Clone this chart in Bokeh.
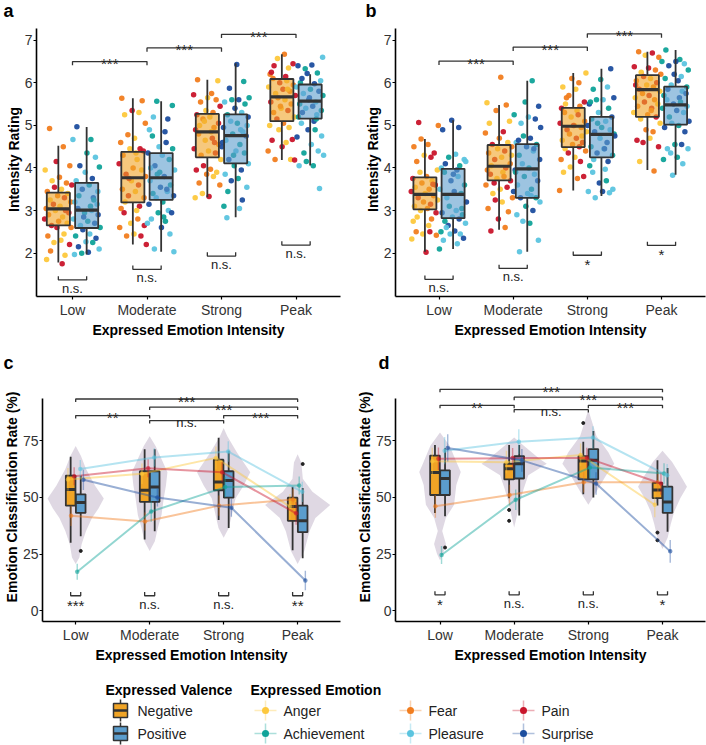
from bokeh.plotting import figure
from bokeh.layouts import column, row
from bokeh.models import Range1d, FixedTicker
from bokeh.embed import file_html
from bokeh.resources import INLINE
from bokeh.core.properties import value

FONT = "Liberation Sans"
CATS = ["Low", "Moderate", "Strong", "Peak"]
EMOTIONS = ["Anger", "Fear", "Pain", "Achievement", "Pleasure", "Surprise"]
EMO_CODES = "AFPCLS"
EMO_COLORS = ["#FDC83C", "#F17D1F", "#C9152B", "#10A399", "#5BC4DF", "#1D4E9F"]
VALENCES = ["Negative", "Positive"]
VAL_COLORS = ["#F0A426", "#5B9DCD"]

# ---------------- panel a (intensity rating) ----------------
# [lower whisker, Q1, median, Q3, upper whisker]
A_BOX_NEG = [[1.78, 2.65, 3.04, 3.42, 4.52], [2.20, 3.19, 3.77, 4.38, 5.64],
             [3.31, 4.25, 4.85, 5.27, 6.07], [4.19, 5.10, 5.67, 6.09, 6.67]]
A_BOX_POS = [[1.97, 2.59, 3.01, 3.65, 4.96], [2.03, 3.25, 3.77, 4.35, 5.57],
             [2.84, 4.11, 4.76, 5.26, 6.46], [4.06, 5.16, 5.57, 5.96, 6.20]]
A_PTS_NEG = [
    ("FFPFAFFAPPAFAFPAFPAFPAPFAPFAPFPAFAAPFAAP",
     [4.93, 4.50, 4.15, 4.05, 3.95, 3.78, 3.65, 3.70, 3.60, 3.55, 3.50, 3.45, 3.40, 3.35, 3.30, 3.25, 3.20, 3.15, 3.10, 3.05,
      3.00, 3.00, 2.95, 2.90, 2.85, 2.80, 2.75, 2.70, 2.65, 2.60, 2.60, 2.45, 2.40, 2.30, 2.25, 2.20, 2.05, 1.95, 1.85, 1.75]),
    ("FFPAAFFAFPAPFAPFAPFAPFAPFAPFAPFAPFAPFPPA",
     [5.64, 5.58, 5.35, 5.30, 5.25, 5.05, 4.78, 4.70, 4.60, 4.45, 4.45, 4.40, 4.30, 4.20, 4.10, 4.00, 3.95, 3.85, 3.80, 3.70,
      3.60, 3.50, 3.45, 3.35, 3.30, 3.20, 3.10, 3.05, 3.00, 2.95, 2.80, 2.70, 2.65, 2.60, 2.45, 2.40, 2.40, 2.20, 3.75, 4.35]),
    ("AFFPAFFPAFPAFPAFPAFPAFPAPFAPFPAFAFFAPAPA",
     [6.05, 6.07, 5.75, 5.72, 5.65, 5.60, 5.55, 5.45, 5.35, 5.30, 5.25, 5.20, 5.15, 5.05, 5.00, 4.95, 4.90, 4.85, 4.80, 4.70,
      4.65, 4.55, 4.45, 4.40, 4.35, 4.30, 4.20, 4.05, 3.97, 3.95, 3.90, 3.85, 3.80, 3.65, 3.60, 3.40, 3.33, 3.30, 4.60, 5.10]),
    ("FAPPAFPFAPFAPFAPFAPFAPFAPFAAAPPAFPAFPFAP",
     [6.67, 6.57, 6.45, 6.40, 6.35, 6.20, 6.15, 6.10, 6.05, 6.00, 5.95, 5.90, 5.85, 5.80, 5.75, 5.70, 5.65, 5.60, 5.55, 5.50,
      5.40, 5.35, 5.30, 5.20, 5.15, 5.05, 5.00, 4.95, 4.90, 4.67, 4.65, 4.60, 4.40, 4.50, 4.20, 4.20, 4.19, 5.45, 5.85, 6.25]),
]
A_PTS_POS = [
    ("SCLCLSCLSLCSLCSLCSLCSLCSLCSLCSLCSLCSLCSL",
     [4.97, 4.67, 4.67, 4.35, 4.25, 4.05, 4.02, 3.90, 3.75, 3.70, 3.60, 3.50, 3.45, 3.35, 3.30, 3.20, 3.10, 3.05, 3.00, 2.95,
      2.90, 2.80, 2.75, 2.70, 2.65, 2.60, 2.55, 2.45, 2.40, 2.35, 2.27, 2.25, 2.15, 2.10, 2.00, 2.02, 1.97, 3.25, 2.85, 3.15]),
    ("CCLSLSCSLCSLCSLCSLCSLCSLCSLCSLCLSLLLCSLC",
     [5.57, 5.47, 5.20, 5.15, 4.90, 4.85, 4.75, 4.60, 4.50, 4.45, 4.35, 4.30, 4.20, 4.05, 3.95, 3.85, 3.80, 3.70, 3.60, 3.55,
      3.45, 3.40, 3.35, 3.30, 3.20, 3.15, 3.00, 2.95, 2.95, 2.80, 2.75, 2.70, 2.60, 2.45, 2.10, 2.03, 3.90, 3.50, 4.00, 2.85]),
    ("SCSCCSLCSLCSLCSLCSLCSLCSLCSLCSLCSCLLLCLSCSL",
     [6.43, 6.03, 5.87, 5.65, 5.60, 5.60, 5.55, 5.50, 5.40, 5.30, 5.25, 5.20, 5.10, 5.05, 4.95, 4.85, 4.80, 4.75, 4.65, 4.55,
      4.50, 4.40, 4.35, 4.20, 4.10, 4.05, 3.95, 3.85, 3.75, 3.70, 3.55, 3.45, 3.25, 3.10, 3.05, 2.83, 4.90, 4.30, 5.00, 4.60]),
    ("LCSSCSLCSLCSLCSLCSLCSLCSLCSLSLLCLCCLLSCS",
     [6.60, 6.33, 6.42, 6.40, 6.23, 6.22, 6.05, 6.00, 5.98, 5.90, 5.85, 5.80, 5.75, 5.70, 5.60, 5.55, 5.50, 5.45, 5.40, 5.35,
      5.30, 5.25, 5.20, 5.10, 5.05, 4.90, 4.90, 4.75, 4.73, 4.55, 4.40, 4.35, 4.30, 4.15, 4.05, 4.05, 3.52, 5.65, 5.15, 6.10]),
]
A_TOP = [(1, 2, 6.50, "***"), (2, 3, 6.82, "***"), (3, 4, 7.14, "***")]
A_BOT_Y = [1.37, 1.62, 1.93, 2.19]
A_BOT_LAB = ["n.s.", "n.s.", "n.s.", "n.s."]

# ---------------- panel b (intensity rating) ----------------
B_BOX_NEG = [[2.03, 3.03, 3.38, 3.78, 4.68], [2.55, 3.71, 4.04, 4.54, 5.48],
             [3.47, 4.49, 4.98, 5.41, 6.23], [3.95, 5.20, 5.84, 6.18, 6.73]]
B_BOX_POS = [[2.10, 2.82, 3.38, 3.98, 5.12], [2.03, 3.30, 3.98, 4.56, 6.05],
             [3.34, 4.25, 4.79, 5.20, 6.33], [3.84, 5.02, 5.48, 5.91, 6.77]]
B_PTS_NEG = [
    ("PFFFFPAPFAAFPAFPAFPAFPAFPAFAPAFAAFPAFAPP",
     [5.07, 5.00, 4.68, 4.55, 4.50, 4.35, 4.30, 4.25, 4.15, 3.95, 3.90, 3.80, 3.75, 3.70, 3.65, 3.60, 3.55, 3.50, 3.45, 3.40,
      3.35, 3.30, 3.25, 3.20, 3.15, 3.10, 3.05, 3.00, 2.95, 2.85, 2.80, 2.75, 2.65, 2.50, 2.50, 2.45, 2.42, 2.33, 2.02, 3.62]),
    ("FAFFAAPFFAPFAPFAPFAPFAPFAPFAPAFPAFFPFPAP",
     [6.13, 5.53, 5.48, 5.35, 5.10, 5.05, 4.85, 4.82, 4.70, 4.60, 4.55, 4.50, 4.45, 4.40, 4.35, 4.25, 4.20, 4.10, 4.05, 4.00,
      3.95, 3.90, 3.85, 3.80, 3.75, 3.70, 3.60, 3.50, 3.55, 3.40, 3.30, 3.25, 3.20, 3.05, 2.97, 2.80, 2.60, 2.52, 4.30, 3.65]),
    ("AFFAAFPAFPAFPAFPAFPAFPAPFPAFPAFPAPAFFPAF",
     [6.23, 6.10, 6.00, 5.90, 5.85, 5.70, 5.55, 5.50, 5.45, 5.40, 5.35, 5.30, 5.25, 5.20, 5.10, 5.05, 5.00, 4.95, 4.90, 4.85,
      4.80, 4.70, 4.65, 4.60, 4.55, 4.50, 4.45, 4.40, 4.35, 4.25, 4.20, 4.15, 4.02, 3.80, 3.90, 3.75, 3.47, 5.00, 4.75, 5.65]),
    ("FPAFPPFAFPAFPAFPAFPAFPAFPAFPAAFFPAPPAFPF",
     [6.73, 6.70, 6.65, 6.60, 6.38, 6.35, 6.30, 6.25, 6.20, 6.15, 6.10, 6.05, 6.00, 5.95, 5.90, 5.85, 5.80, 5.75, 5.70, 5.65,
      5.60, 5.55, 5.50, 5.45, 5.40, 5.30, 5.25, 5.20, 5.15, 5.05, 4.90, 4.85, 4.65, 4.70, 4.60, 4.50, 4.15, 3.93, 5.95, 5.35]),
]
B_PTS_POS = [
    ("SSSLCLSCLSCLSCLSCLSCLSCLSCLSSCLLSLLCSCLL",
     [5.12, 4.95, 4.90, 4.32, 4.25, 4.20, 4.10, 4.05, 4.00, 3.95, 3.90, 3.80, 3.70, 3.60, 3.50, 3.45, 3.40, 3.30, 3.20, 3.10,
      3.00, 2.95, 2.90, 2.85, 2.80, 2.75, 2.70, 2.65, 2.52, 2.50, 2.45, 2.45, 2.35, 2.30, 2.22, 2.10, 3.85, 3.05, 2.60, 4.15]),
    ("CCSCLSLSCSLCSLCSLCSLCSLCSLCSLCSLCLLLSCLS",
     [6.05, 5.55, 5.45, 5.25, 5.20, 5.15, 5.05, 4.95, 4.75, 4.70, 4.60, 4.55, 4.50, 4.40, 4.30, 4.20, 4.10, 4.00, 3.95, 3.85,
      3.80, 3.70, 3.60, 3.50, 3.45, 3.40, 3.30, 3.30, 3.20, 3.10, 3.00, 2.90, 2.70, 2.75, 2.30, 2.03, 4.45, 3.90, 3.35, 4.65]),
    ("SCLCSCLSCLSCLSCLSCLSCLSCLSCLLCSLLSLLSCSC",
     [6.33, 6.08, 5.90, 5.85, 5.65, 5.60, 5.60, 5.50, 5.40, 5.30, 5.20, 5.15, 5.10, 5.00, 4.95, 4.90, 4.85, 4.80, 4.70, 4.60,
      4.50, 4.45, 4.35, 4.30, 4.20, 4.15, 4.05, 3.97, 3.90, 3.70, 3.65, 3.50, 3.45, 3.45, 3.42, 3.30, 4.75, 5.05, 4.45, 5.55]),
    ("CCCSLSCSLCSLCSLCSLCSLCSLCSLCSSCSLLLCCLLS",
     [6.77, 6.55, 6.50, 6.50, 6.45, 6.40, 6.30, 6.20, 6.15, 6.10, 6.05, 5.95, 5.90, 5.85, 5.80, 5.70, 5.65, 5.60, 5.55, 5.50,
      5.45, 5.40, 5.35, 5.30, 5.20, 5.10, 5.05, 5.00, 4.95, 4.85, 4.55, 4.55, 4.45, 4.45, 4.35, 4.25, 4.20, 4.10, 3.83, 5.75]),
]
B_TOP = [(1, 2, 6.51, "***"), (2, 3, 6.84, "***"), (3, 4, 7.15, "***")]
B_BOT_Y = [1.385, 1.64, 1.95, 2.18]
B_BOT_LAB = ["n.s.", "n.s.", "*", "*"]

# ---------------- panel c (classification rate) ----------------
C_BOX_NEG = [[30.0, 46.4, 53.5, 59.7, 68.0], [31.4, 48.1, 53.2, 61.6, 71.3],
             [40.1, 53.2, 56.8, 66.7, 76.4], [26.7, 39.7, 46.0, 49.9, 54.7]]
C_BOX_POS = [[32.9, 43.2, 47.8, 51.4, 59.7], [35.1, 48.1, 54.6, 61.6, 71.3],
             [36.5, 49.9, 57.5, 61.6, 70.6], [23.2, 34.7, 39.7, 46.4, 54.2]]
C_OUT_NEG = [[], [], [], []]
C_OUT_POS = [[26.4], [], [], [64.8]]
# emotion means per category (Anger, Fear, Pain, Achievement, Pleasure, Surprise)
C_MEANS = [[58.0, 60.5, 67.5, 46.0], [41.9, 39.4, 46.4, 49.1], [59.4, 62.9, 61.2, 43.0],
           [17.2, 43.8, 54.6, 55.3], [62.6, 67.7, 70.3, 52.5], [57.8, 50.0, 45.5, 13.3]]
C_ERR = [[5.0, 4.5, 5.0, 5.5], [4.5, 4.0, 4.5, 4.5], [4.0, 4.0, 4.5, 5.0],
         [3.5, 4.5, 4.5, 4.0], [4.0, 4.0, 4.5, 4.5], [4.5, 4.0, 4.0, 4.3]]
# violin outlines: levels and half widths (category units)
C_VIO_Y = [[72.7, 68.4, 62.6, 55.3, 49.6, 45.2, 40.9, 35.2, 29.3, 23.5, 20.6],
           [77.1, 72.7, 67.0, 61.2, 55.3, 49.6, 42.3, 36.5, 30.7, 26.4],
           [80.7, 77.1, 69.9, 61.2, 55.3, 49.6, 43.8, 36.5, 32.2],
           [69.1, 65.5, 58.3, 52.5, 46.7, 40.9, 35.1, 26.4, 20.6]]
C_VIO_W = [[0.0, 0.07, 0.14, 0.26, 0.38, 0.31, 0.22, 0.14, 0.08, 0.05, 0.0],
           [0.0, 0.08, 0.16, 0.24, 0.22, 0.19, 0.16, 0.11, 0.07, 0.0],
           [0.0, 0.05, 0.18, 0.36, 0.27, 0.16, 0.12, 0.07, 0.0],
           [0.0, 0.05, 0.07, 0.20, 0.44, 0.24, 0.16, 0.09, 0.0]]
C_TOP = [(1, 4, 93.5, "***"), (2, 4, 89.9, "***"), (1, 2, 86.2, "**"), (2, 3, 84.0, "n.s."), (3, 4, 86.2, "***")]
C_BOT_Y = [6.6, 6.6, 6.6, 6.6]
C_BOT_LAB = ["***", "n.s.", "n.s.", "**"]

# ---------------- panel d (classification rate) ----------------
D_BOX_NEG = [[43.2, 51.1, 61.0, 68.5, 73.2], [49.7, 58.0, 62.7, 64.9, 73.2],
             [51.4, 58.0, 66.1, 68.3, 74.6], [46.5, 49.7, 53.3, 56.5, 66.4]]
D_BOX_POS = [[41.7, 51.1, 58.4, 62.0, 71.7], [42.0, 58.4, 64.9, 68.3, 73.2],
             [50.0, 58.0, 66.4, 71.4, 79.4], [34.9, 43.2, 48.0, 54.8, 63.0]]
D_OUT_NEG = [[], [44.5, 39.7], [82.9], [34.5, 31.1]]
D_OUT_POS = [[27.9], [], [], []]
D_MEANS = [[66.0, 65.6, 68.8, 46.8], [46.1, 51.1, 56.7, 56.7], [67.1, 67.4, 67.5, 56.2],
           [24.6, 49.0, 63.2, 60.6], [70.7, 74.6, 76.5, 59.8], [71.9, 66.4, 56.2, 26.2]]
D_ERR = [[6.0, 5.0, 5.0, 5.5], [5.0, 4.5, 4.5, 4.5], [5.0, 4.5, 4.5, 5.0],
         [4.0, 4.5, 4.5, 4.5], [6.0, 5.5, 5.0, 5.0], [6.0, 5.0, 5.0, 5.0]]
D_VIO_Y = [[78.7, 72.9, 64.2, 61.3, 55.5, 46.8, 41.0, 35.2, 29.4, 25.0, 22.3],
           [76.5, 72.9, 67.1, 64.9, 59.8, 54.0, 48.3, 42.4, 36.7],
           [88.8, 84.5, 77.2, 70.0, 64.9, 59.8, 52.6, 46.8],
           [70.7, 65.7, 59.8, 54.8, 49.7, 43.9, 38.1, 32.3, 27.2]]
D_VIO_W = [[0.0, 0.13, 0.24, 0.28, 0.22, 0.19, 0.08, 0.03, 0.08, 0.04, 0.0],
           [0.0, 0.13, 0.34, 0.44, 0.19, 0.13, 0.08, 0.04, 0.0],
           [0.0, 0.04, 0.11, 0.27, 0.35, 0.24, 0.11, 0.0],
           [0.0, 0.13, 0.24, 0.33, 0.24, 0.16, 0.11, 0.07, 0.0]]
D_TOP = [(1, 4, 97.8, "***"), (2, 4, 94.3, "***"), (1, 2, 90.7, "**"), (2, 3, 88.8, "n.s."), (3, 4, 90.7, "***")]
D_BOT_Y = [7.0, 7.0, 7.0, 7.0]
D_BOT_LAB = ["*", "n.s.", "n.s.", "*"]

# fixed jitter pattern (fractions of the jitter half width)
JIT = [-0.62, 0.35, -0.15, 0.81, -0.93, 0.08, 0.57, -0.44, 0.95, -0.27, 0.22, -0.78, 0.66, -0.05, 0.43,
       -0.58, 0.88, -0.35, 0.12, -0.86, 0.51, -0.21, 0.74, -0.69, 0.30, -0.97, 0.02, 0.62, -0.48, 0.90,
       -0.10, 0.40, -0.74, 0.18, -0.31, 0.79, -0.55, 0.47, -0.83, 0.27]

DARK = "#333333"


def x_range_for(width, bl, br, c1, c4):
    # c1 / c4: pixel position (within the figure) of the first / last category
    ppu = (c4 - c1) / 3.0
    return Range1d(1 - (c1 - bl) / ppu, 4 + ((width - br) - c4) / ppu)


def style_axes(p, yticks, ybounds, ylabel):
    p.xgrid.visible = False
    p.ygrid.visible = False
    p.outline_line_color = None
    p.xaxis.ticker = FixedTicker(ticks=[1, 2, 3, 4])
    p.xaxis.major_label_overrides = {i + 1: c for i, c in enumerate(CATS)}
    p.yaxis.ticker = FixedTicker(ticks=yticks)
    p.yaxis.bounds = ybounds
    p.xaxis.axis_label = "Expressed Emotion Intensity"
    p.yaxis.axis_label = ylabel
    for ax in (p.xaxis[0], p.yaxis[0]):
        ax.axis_line_color = "#000000"
        ax.axis_line_width = 1.6
        ax.major_tick_line_color = "#000000"
        ax.major_tick_line_width = 1.2
        ax.major_tick_out = 3
        ax.major_tick_in = 0
        ax.minor_tick_line_color = None
        ax.major_label_text_font = FONT
        ax.major_label_text_font_size = "14px"
        ax.major_label_text_color = "#333333"
        ax.major_label_standoff = 2
        ax.axis_label_text_font = FONT
        ax.axis_label_text_font_size = "14px"
        ax.axis_label_text_font_style = "bold"
        ax.axis_label_text_color = "#000000"
        ax.axis_label_standoff = 1
    p.yaxis.major_label_standoff = 1
    p.yaxis.axis_label_standoff = 0


def set_letter(p, letter, lx, bl, valign):
    p.title.text = letter
    p.title.align = "left"
    p.title.offset = lx - bl
    p.title.text_font = FONT
    p.title.text_font_size = "18px"
    p.title.text_font_style = "bold"
    p.title.text_color = "#000000"
    p.title.standoff = 0
    p.title.vertical_align = valign


def draw_boxes(p, stats, offset, width, color, alpha, lw, mw):
    cx = [i + 1 + offset for i in range(len(stats))]
    lo = [s[0] for s in stats]
    q1 = [s[1] for s in stats]
    md = [s[2] for s in stats]
    q3 = [s[3] for s in stats]
    hi = [s[4] for s in stats]
    p.segment(cx, lo, cx, q1, line_color=DARK, line_width=lw)
    p.segment(cx, q3, cx, hi, line_color=DARK, line_width=lw)
    p.quad(left=[c - width / 2 for c in cx], right=[c + width / 2 for c in cx], bottom=q1, top=q3,
           fill_color=color, fill_alpha=alpha, line_color=DARK, line_width=lw)
    p.segment([c - width / 2 for c in cx], md, [c + width / 2 for c in cx], md, line_color=DARK, line_width=mw)


def draw_top_brackets(p, brackets, tip):
    xs = [[b[0], b[0], b[1], b[1]] for b in brackets]
    ys = [[b[2] - tip, b[2], b[2], b[2] - tip] for b in brackets]
    p.multi_line(xs, ys, line_color=DARK, line_width=1.3)
    labs = [b[3] for b in brackets]
    p.text(x=[(b[0] + b[1]) / 2 for b in brackets], y=[b[2] for b in brackets], text=labs,
           text_font=value(FONT), text_font_size=["15px" if "*" in l else "13px" for l in labs],
           text_align="center", text_baseline="alphabetic", y_offset=2, text_color="#222222")


def draw_bottom_brackets(p, ys_, labs, off, tip):
    xs = [[i + 1 - off, i + 1 - off, i + 1 + off, i + 1 + off] for i in range(len(ys_))]
    ys = [[y + tip, y, y, y + tip] for y in ys_]
    p.multi_line(xs, ys, line_color=DARK, line_width=1.3)
    p.text(x=[i + 1 for i in range(len(ys_))], y=ys_, text=labs,
           text_font=value(FONT), text_font_size=["15px" if "*" in l else "13px" for l in labs],
           text_align="center", text_baseline="top", y_offset=1, text_color="#222222")


def rating_panel(letter, lx, box_neg, box_pos, pts_neg, pts_pos, top_br, bot_y, bot_lab,
                 width, bl, br, c1, c4, seed):
    H, bt, bb, ppu = 340, 22, 40, 43.2
    y_end = 7 + (40 - bt) / ppu
    y_start = y_end - (H - bt - bb) / ppu
    p = figure(width=width, height=H, x_range=x_range_for(width, bl, br, c1, c4),
               y_range=Range1d(y_start, y_end),
               output_backend="svg", toolbar_location=None, title=letter,
               min_border_left=bl, min_border_right=br, min_border_top=bt, min_border_bottom=bb)
    set_letter(p, letter, lx, bl, "top")
    style_axes(p, [2, 3, 4, 5, 6, 7], (y_start, 7.28), "Intensity Rating")
    offs = [-0.19, 0.19]
    for v, pts in enumerate((pts_neg, pts_pos)):
        xs, ys, cs = [], [], []
        for ci, (codes, vals) in enumerate(pts):
            for k, (c, val) in enumerate(zip(codes, vals)):
                j = JIT[(k + 11 * ci + 23 * v + seed) % len(JIT)]
                xs.append(ci + 1 + offs[v] + j * 0.19)
                ys.append(val)
                cs.append(EMO_COLORS[EMO_CODES.index(c)])
        p.scatter(xs, ys, size=5.5, fill_color=cs, line_color=None, fill_alpha=0.95)
    draw_boxes(p, box_neg, offs[0], 0.31, VAL_COLORS[0], 0.6, 1.8, 3.2)
    draw_boxes(p, box_pos, offs[1], 0.31, VAL_COLORS[1], 0.6, 1.8, 3.2)
    draw_top_brackets(p, top_br, 0.09)
    draw_bottom_brackets(p, bot_y, bot_lab, 0.19, 0.09)
    return p


def rate_panel(letter, lx, box_neg, box_pos, out_neg, out_pos, means, errs, vio_y, vio_w,
               top_br, bot_y, bot_lab, width, bl, br, c1, c4):
    H, bt, bb, ppu = 325, 32, 40, 2.3
    y_start = -(625 - 614) / ppu
    y_end = y_start + (H - bt - bb) / ppu
    p = figure(width=width, height=H, x_range=x_range_for(width, bl, br, c1, c4),
               y_range=Range1d(y_start, y_end),
               output_backend="svg", toolbar_location=None, title=letter,
               min_border_left=bl, min_border_right=br, min_border_top=bt, min_border_bottom=bb)
    set_letter(p, letter, lx, bl, "bottom")
    style_axes(p, [0, 25, 50, 75], (y_start, 93.9), "Emotion Classification Rate (%)")
    # violins
    vx, vy = [], []
    for ci in range(4):
        c = ci + 1
        vx.append([c - w for w in vio_w[ci]] + [c + w for w in reversed(vio_w[ci])])
        vy.append(list(vio_y[ci]) + list(reversed(vio_y[ci])))
    p.patches(vx, vy, fill_color="#ddd6e2", fill_alpha=0.95, line_color=None)
    # boxes
    offs = [-0.068, 0.068]
    draw_boxes(p, box_neg, offs[0], 0.13, VAL_COLORS[0], 1.0, 1.8, 3.0)
    draw_boxes(p, box_pos, offs[1], 0.13, VAL_COLORS[1], 1.0, 1.8, 3.0)
    for v, outs in enumerate((out_neg, out_pos)):
        ox, oy = [], []
        for ci, lst in enumerate(outs):
            for val in lst:
                ox.append(ci + 1 + offs[v])
                oy.append(val)
        if ox:
            p.scatter(ox, oy, size=3, color="#222222")
    # emotion mean lines with error bars
    for e in range(6):
        xs = [ci + 1 + (e - 2.5) * 0.25 / 6 for ci in range(4)]
        m = means[e]
        er = errs[e]
        col = EMO_COLORS[e]
        p.line(xs, m, line_color=col, line_width=2, line_alpha=0.45)
        p.segment(xs, [a - b for a, b in zip(m, er)], xs, [a + b for a, b in zip(m, er)],
                  line_color=col, line_width=1.4, line_alpha=0.4)
        p.scatter(xs, m, size=4.5, fill_color=col, line_color=None, fill_alpha=0.6)
    draw_top_brackets(p, top_br, 1.3)
    draw_bottom_brackets(p, bot_y, bot_lab, 0.068, 1.6)
    return p


pa = rating_panel("a", 3, A_BOX_NEG, A_BOX_POS, A_PTS_NEG, A_PTS_POS, A_TOP, A_BOT_Y, A_BOT_LAB,
                  353, 36, 13, 72.0, 295.5, 0)
pb = rating_panel("b", 12, B_BOX_NEG, B_BOX_POS, B_PTS_NEG, B_PTS_POS, B_TOP, B_BOT_Y, B_BOT_LAB,
                  353, 42, 1, 85.5, 308.0, 7)
pc = rate_panel("c", 2, C_BOX_NEG, C_BOX_POS, C_OUT_NEG, C_OUT_POS, C_MEANS, C_ERR, C_VIO_Y, C_VIO_W,
                C_TOP, C_BOT_Y, C_BOT_LAB, 353, 41, 13, 74.3, 297.0)
pd_ = rate_panel("d", 25, D_BOX_NEG, D_BOX_POS, D_OUT_NEG, D_OUT_POS, D_MEANS, D_ERR, D_VIO_Y, D_VIO_W,
                 D_TOP, D_BOT_Y, D_BOT_LAB, 353, 42, 1, 86.5, 309.0)

# ---------------- legend ----------------
pl = figure(width=706, height=80, x_range=Range1d(0, 706), y_range=Range1d(745, 665),
            output_backend="svg", toolbar_location=None, min_border=0,
            x_axis_type=None, y_axis_type=None)
pl.outline_line_color = None
LEG_TITLE_Y = 689
LEG_ROW_Y = [710, 733]
VAL_ICON_X = 120
EMO_COL_X = [265, 410, 523]
EMO_ORDER = [[0, 3], [1, 4], [2, 5]]
pl.text(x=[105, 250], y=[LEG_TITLE_Y, LEG_TITLE_Y], text=["Expressed Valence", "Expressed Emotion"],
        text_font=value(FONT), text_font_size="14px", text_font_style="bold", text_baseline="middle",
        text_color="#000000")
for v in range(2):
    y = LEG_ROW_Y[v]
    pl.segment([VAL_ICON_X], [y - 11], [VAL_ICON_X], [y + 11], line_color=DARK, line_width=1.5)
    pl.quad(left=[VAL_ICON_X - 7], right=[VAL_ICON_X + 7], top=[y - 7], bottom=[y + 7],
            fill_color=VAL_COLORS[v], line_color=DARK, line_width=1.5)
    pl.segment([VAL_ICON_X - 7], [y], [VAL_ICON_X + 7], [y], line_color=DARK, line_width=2.5)
    pl.text(x=[VAL_ICON_X + 17], y=[y], text=[VALENCES[v]], text_font=value(FONT), text_font_size="14px",
            text_baseline="middle", text_color="#222222")
for col, ids in enumerate(EMO_ORDER):
    x = EMO_COL_X[col]
    for r, e in enumerate(ids):
        y = LEG_ROW_Y[r]
        pl.segment([x - 11, x], [y, y - 10], [x + 11, x], [y, y + 10], line_color=EMO_COLORS[e],
                   line_width=1.5, line_alpha=0.35)
        pl.scatter([x], [y], size=7, fill_color=EMO_COLORS[e], line_color=None)
        pl.text(x=[x + 18], y=[y], text=[EMOTIONS[e]], text_font=value(FONT), text_font_size="14px",
                text_baseline="middle", text_color="#222222")

root = column(row(pa, pb), row(pc, pd_), pl)
open("out.html", "w").write(file_html(root, INLINE))
